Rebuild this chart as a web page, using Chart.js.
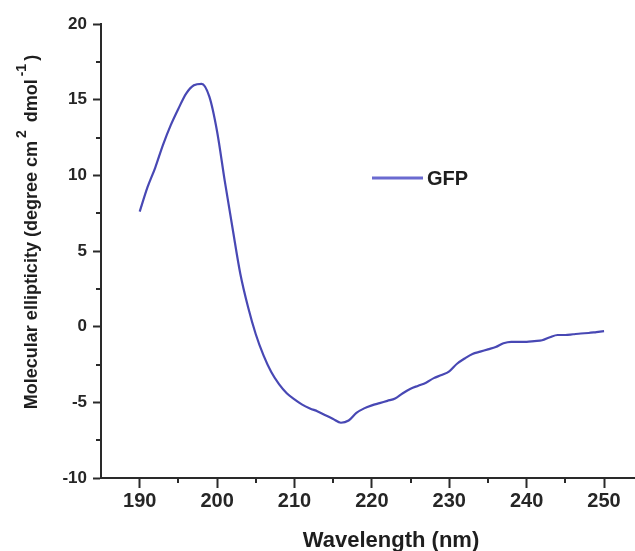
<!DOCTYPE html>
<html>
<head>
<meta charset="utf-8">
<script src="https://cdn.jsdelivr.net/npm/chart.js@4.4.0/dist/chart.umd.min.js"></script>
<style>
html,body{margin:0;padding:0;background:#fff;overflow:hidden;}
#wrap{position:relative;width:635px;height:551px;}
</style>
</head>
<body>
<div id="wrap"><canvas id="c" width="635" height="551"></canvas></div>
<script>
const wavelengths = [190,191,192,193,194,195,196,197,198,199,200,201,202,203,204,205,206,207,208,209,210,
  211,212,213,214,215,216,217,218,219,220,221,222,223,224,225,226,227,228,229,230,
  231,232,233,234,235,236,237,238,239,240,241,242,243,244,245,246,247,248,249,250];
const ellipticity = [7.6,9.2,10.5,12.0,13.3,14.4,15.4,15.95,16.05,15.2,12.9,9.6,6.5,3.5,1.3,-0.5,-1.9,-3.0,-3.8,-4.4,-4.8,
  -5.15,-5.4,-5.6,-5.85,-6.1,-6.35,-6.2,-5.7,-5.4,-5.2,-5.05,-4.9,-4.75,-4.4,-4.1,-3.9,-3.7,-3.4,-3.2,-2.95,
  -2.45,-2.1,-1.8,-1.65,-1.5,-1.35,-1.1,-1.0,-1.0,-1.0,-0.95,-0.9,-0.7,-0.55,-0.55,-0.5,-0.45,-0.42,-0.36,-0.3];
const seriesName = 'GFP';
const xTicks = [190,200,210,220,230,240,250];
const xMinorTicks = [195,205,215,225,235,245];
const yTicks = [-10,-5,0,5,10,15,20];
const yMinorTicks = [-7.5,-2.5,2.5,7.5,12.5,17.5];
const xTitle = 'Wavelength (nm)';
const yTitleParts = [['Molecular ellipticity (degree cm',0],['2',1],[' dmol',0],['-1',1],[')',0]];

const lineColor = '#4848b4';
const axisColor = '#2a2a2a';

const extras = {
  id:'extras',
  afterDraw(chart){
    const ctx = chart.ctx;
    const xs = chart.scales.x, ys = chart.scales.y;
    const a = chart.chartArea;
    ctx.save();
    // minor ticks
    ctx.strokeStyle = axisColor; ctx.lineWidth = 2;
    xMinorTicks.forEach(v=>{
      const px = Math.round(xs.getPixelForValue(v));
      ctx.beginPath(); ctx.moveTo(px, a.bottom); ctx.lineTo(px, a.bottom+5); ctx.stroke();
    });
    yMinorTicks.forEach(v=>{
      const py = Math.round(ys.getPixelForValue(v));
      ctx.beginPath(); ctx.moveTo(a.left, py); ctx.lineTo(a.left-5, py); ctx.stroke();
    });
    // legend
    ctx.strokeStyle = '#6a6ad0'; ctx.lineWidth = 3;
    ctx.beginPath(); ctx.moveTo(372, 178); ctx.lineTo(423, 178); ctx.stroke();
    ctx.fillStyle = '#1e1e1e';
    ctx.font = 'bold 20px "Liberation Sans", Arial, sans-serif';
    ctx.textBaseline = 'alphabetic'; ctx.textAlign = 'left';
    ctx.fillText(seriesName, 427, 185);
    // x title
    ctx.font = 'bold 22px "Liberation Sans", Arial, sans-serif';
    ctx.textAlign = 'center';
    ctx.fillText(xTitle, 391, 547);
    // y title (rotated) with superscripts
    ctx.translate(37, 0); ctx.rotate(-Math.PI/2);
    const mainFont = 'bold 18px "Liberation Sans", Arial, sans-serif';
    const supFont = 'bold 14px "Liberation Sans", Arial, sans-serif';
    const gap = 3;
    let total = 0;
    yTitleParts.forEach(([t,s])=>{ ctx.font = s?supFont:mainFont; total += ctx.measureText(t).width + (s?2*gap:0); });
    let cx = -232 - total/2;
    ctx.textAlign = 'left';
    yTitleParts.forEach(([t,s])=>{
      ctx.font = s?supFont:mainFont;
      if (s) cx += gap;
      ctx.fillText(t, cx, s ? -11 : 0);
      cx += ctx.measureText(t).width + (s?gap:0);
    });
    ctx.restore();
  }
};

new Chart(document.getElementById('c'), {
  type:'line',
  data:{
    datasets:[{
      label: seriesName,
      data: wavelengths.map((w,i)=>({x:w, y:ellipticity[i]})),
      borderColor: lineColor,
      borderWidth: 2.2,
      pointRadius: 0,
      fill:false,
      cubicInterpolationMode:'monotone'
    }]
  },
  options:{
    responsive:false,
    animation:false,
    devicePixelRatio:1,
    layout:{padding:{top:24,right:0,bottom:0,left:0}},
    plugins:{legend:{display:false}, tooltip:{enabled:false}},
    scales:{
      x:{
        type:'linear', min:185, max:254,
        afterBuildTicks(s){ s.ticks = xTicks.map(v=>({value:v})); },
        afterFit(s){ s.height = 73; },
        border:{display:true, color:axisColor, width:2},
        grid:{drawOnChartArea:false, drawTicks:true, tickLength:10, tickWidth:2, tickColor:axisColor},
        ticks:{color:'#262626', padding:1, maxRotation:0, font:{family:'"Liberation Sans", Arial, sans-serif', size:20, weight:'bold'}}
      },
      y:{
        type:'linear', min:-10, max:20,
        afterBuildTicks(s){ s.ticks = yTicks.map(v=>({value:v})); },
        afterFit(s){ s.width = 101; },
        border:{display:true, color:axisColor, width:2},
        grid:{drawOnChartArea:false, drawTicks:true, tickLength:8, tickWidth:2, tickColor:axisColor},
        ticks:{color:'#262626', padding:6, font:{family:'"Liberation Sans", Arial, sans-serif', size:17, weight:'bold'}}
      }
    }
  },
  plugins:[extras]
});
</script>
</body>
</html>
